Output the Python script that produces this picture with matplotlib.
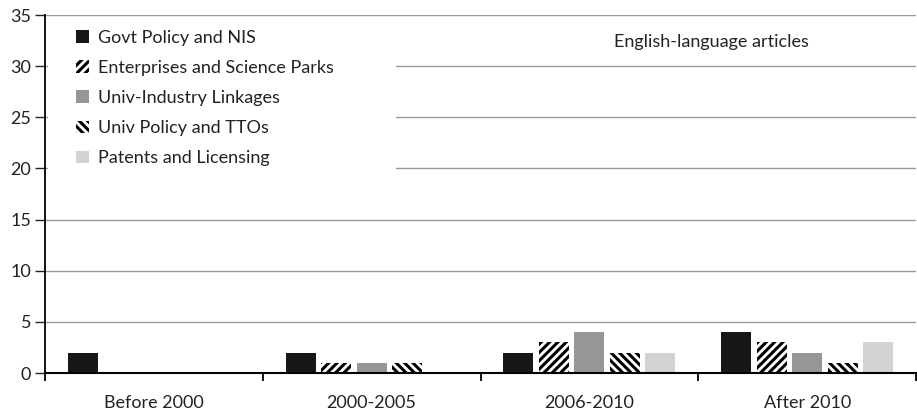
import matplotlib.pyplot as plt
from matplotlib.patches import Rectangle
import numpy as np

plt.rcParams['font.family'] = ['Lato', 'DejaVu Sans']
plt.rcParams['hatch.linewidth'] = 2.2

# data
categories = ['Before 2000', '2000-2005', '2006-2010', 'After 2010']
series_names = ['Govt Policy and NIS', 'Enterprises and Science Parks',
                'Univ-Industry Linkages', 'Univ Policy and TTOs',
                'Patents and Licensing']
govt = [2, 2, 2, 4]
enterprises = [0, 1, 3, 3]
univ_industry = [0, 1, 4, 2]
univ_policy = [0, 1, 2, 1]
patents = [0, 0, 2, 3]

values = [govt, enterprises, univ_industry, univ_policy, patents]
colors = ['#171717', 'white', '#969696', 'white', '#d3d3d3']
hatches = [None, '////', None, '\\\\\\\\', None]

fs = 13

fig = plt.figure(figsize=(9.17, 4.15), dpi=100)
ax = fig.add_axes([45 / 917, 1 - 373 / 415, 871 / 917, 358 / 415])

x = np.arange(len(categories)) + 0.5
step = 0.163
width = 0.137
for j in range(5):
    pos = x + (j - 2) * step
    if hatches[j]:
        ax.bar(pos, values[j], width, color='white', edgecolor='black',
               hatch=hatches[j], linewidth=0, label=series_names[j], zorder=2)
    else:
        ax.bar(pos, values[j], width, color=colors[j], linewidth=0,
               label=series_names[j], zorder=2)

ax.set_xlim(0, 4)
ax.set_ylim(0, 35)
ax.set_yticks(range(0, 36, 5))
ax.yaxis.grid(True, color='#999999', linewidth=1)
ax.set_axisbelow(True)

ax.set_xticks(range(5))
ax.set_xticklabels([])
ax.set_xticks(x, minor=True)
ax.set_xticklabels(categories, minor=True)
ax.tick_params(axis='x', which='minor', length=0, pad=16, labelsize=fs, colors='#222222')
ax.tick_params(axis='x', which='major', length=6, width=1.3, direction='out')
ax.tick_params(axis='y', length=7, width=1, direction='out', labelsize=fs, pad=3, colors='#222222')

for s in ['top', 'right']:
    ax.spines[s].set_visible(False)
ax.spines['left'].set_linewidth(1.3)
ax.spines['bottom'].set_linewidth(1.5)

# white box behind legend hides the gridlines
ax.add_patch(Rectangle((0.003, 0.47), (395 - 47) / 871, 0.47, transform=ax.transAxes,
                       facecolor='white', edgecolor='none', zorder=1))

leg = ax.legend(loc='upper left', bbox_to_anchor=((76 - 45) / 871, 0.958), frameon=False,
                fontsize=fs, handlelength=0.72, handleheight=0.72,
                handletextpad=0.5, labelspacing=0.78, borderpad=0,
                borderaxespad=0)
for t in leg.get_texts():
    t.set_color('#222222')

ax.text(0.765, 0.925, 'English-language articles', transform=ax.transAxes,
        ha='center', va='center', fontsize=fs, color='#222222')

fig.savefig('out.png')
